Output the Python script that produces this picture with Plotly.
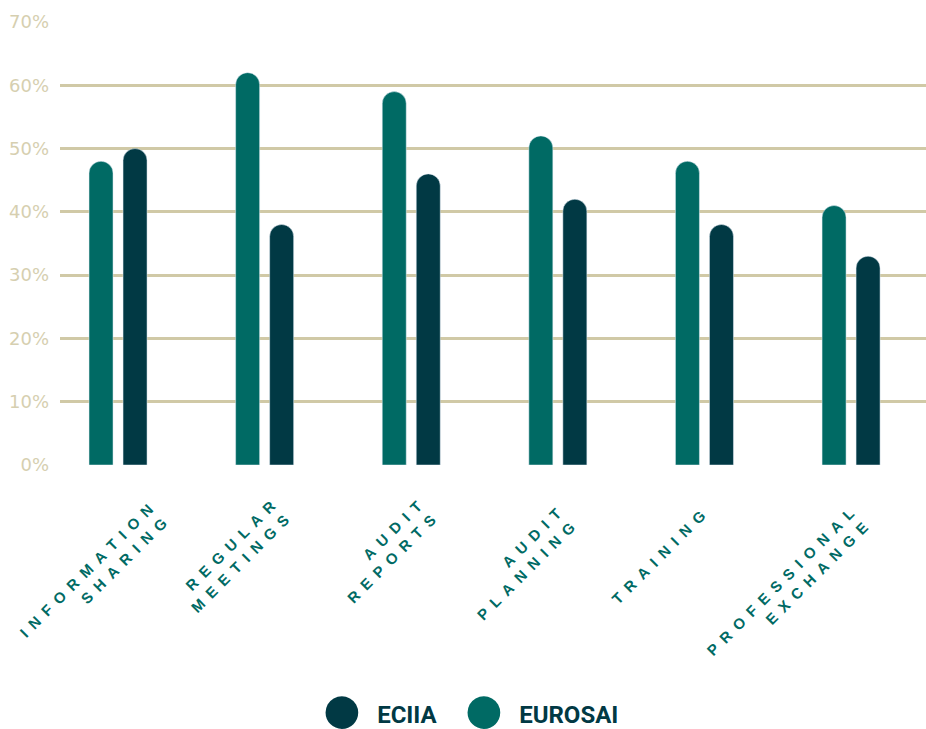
import plotly.graph_objects as go

categories = ["Information Sharing", "Regular Meetings", "Audit Reports",
              "Audit Planning", "Training", "Professional Exchange"]
tick_lines = [["INFORMATION", "SHARING"], ["REGULAR", "MEETINGS"], ["AUDIT", "REPORTS"],
              ["AUDIT", "PLANNING"], ["TRAINING"], ["PROFESSIONAL", "EXCHANGE"]]
eurosai = [48, 62, 59, 52, 48, 41]
eciia = [50, 38, 46, 42, 38, 33]
y_ticks = [0, 10, 20, 30, 40, 50, 60, 70]
y_tick_text = ["0%", "10%", "20%", "30%", "40%", "50%", "60%", "70%"]

C_EUROSAI = "#006a64"
C_ECIIA = "#013944"
GRID = "#d0c9a6"

# label typography helpers (letter spacing / per-label placement tweaks)
EN, THIN = "\u2002", "\u2009"
label_tail = [0, 2, 2, 3, 3, 3]       # trailing en spaces
label_tail_thin = [0, 0, 0, 1, 2, 1]  # trailing thin spaces
label_lead_blank = [True, False, False, False, False, False]


def spaced(word):
    return EN.join(word)


tick_text = []
for i, lines in enumerate(tick_lines):
    tail = EN * label_tail[i] + THIN * label_tail_thin[i]
    rows = [spaced(w) + tail for w in lines]
    if label_lead_blank[i]:
        rows = [EN] + rows
    tick_text.append("<br>".join(rows))

fig = go.Figure()
fig.add_trace(go.Bar(x=categories, y=eurosai, name="EUROSAI", marker_color=C_EUROSAI,
                     width=0.1637, offset=-0.191, showlegend=False))
fig.add_trace(go.Bar(x=categories, y=eciia, name="ECIIA", marker_color=C_ECIIA,
                     width=0.1637, offset=0.041, showlegend=False))

# legend entries (big round bullets)
for nm, col, lw in [("ECIIA", C_ECIIA, 97), ("EUROSAI", C_EUROSAI, 170)]:
    label = ('<span style="font-size:76px;color:%s;baseline-shift:-11px">\u25cf</span>'
             '\u2002<span style="color:%s">%s</span>') % (col, C_ECIIA, nm)
    fig.add_trace(go.Scatter(x=[None], y=[None], mode="markers", name=label,
                             legendwidth=lw,
                             marker=dict(size=1, color="rgba(0,0,0,0)",
                                         line=dict(width=0))))

fig.update_layout(
    width=926, height=729,
    margin=dict(l=60, r=0, t=22, b=264, autoexpand=False),
    plot_bgcolor="white", paper_bgcolor="white",
    barcornerradius=12,
    showlegend=True,
    legend=dict(orientation="h", xref="container", x=0.3013, xanchor="left",
                yref="container", y=0.0206, yanchor="middle",
                font=dict(family="Roboto", size=24, color=C_ECIIA, weight="bold"),
                itemwidth=30, traceorder="normal"),
    xaxis=dict(type="category", range=[-0.389, 5.518], showgrid=False, zeroline=False,
               showline=False, ticks="", tickmode="array", tickvals=categories,
               ticktext=tick_text, tickangle=-45, automargin=False,
               ticklabelshift=18, ticklabelstandoff=18,
               tickfont=dict(family="Liberation Sans", size=15, color=C_EUROSAI, weight="bold")),
    yaxis=dict(range=[0, 70], tickmode="array", tickvals=y_ticks, ticktext=y_tick_text,
               showgrid=True, automargin=False,
               gridcolor=GRID, gridwidth=3, zeroline=False, showline=False, ticks="",
               ticklabelstandoff=10,
               tickfont=dict(family="DejaVu Sans", size=18, color="#d6cfb0")),
)

fig.write_html("out.html", config={"displayModeBar": False},
               post_script="document.body.style.margin='0px';"
                           "document.body.style.overflow='hidden';")
